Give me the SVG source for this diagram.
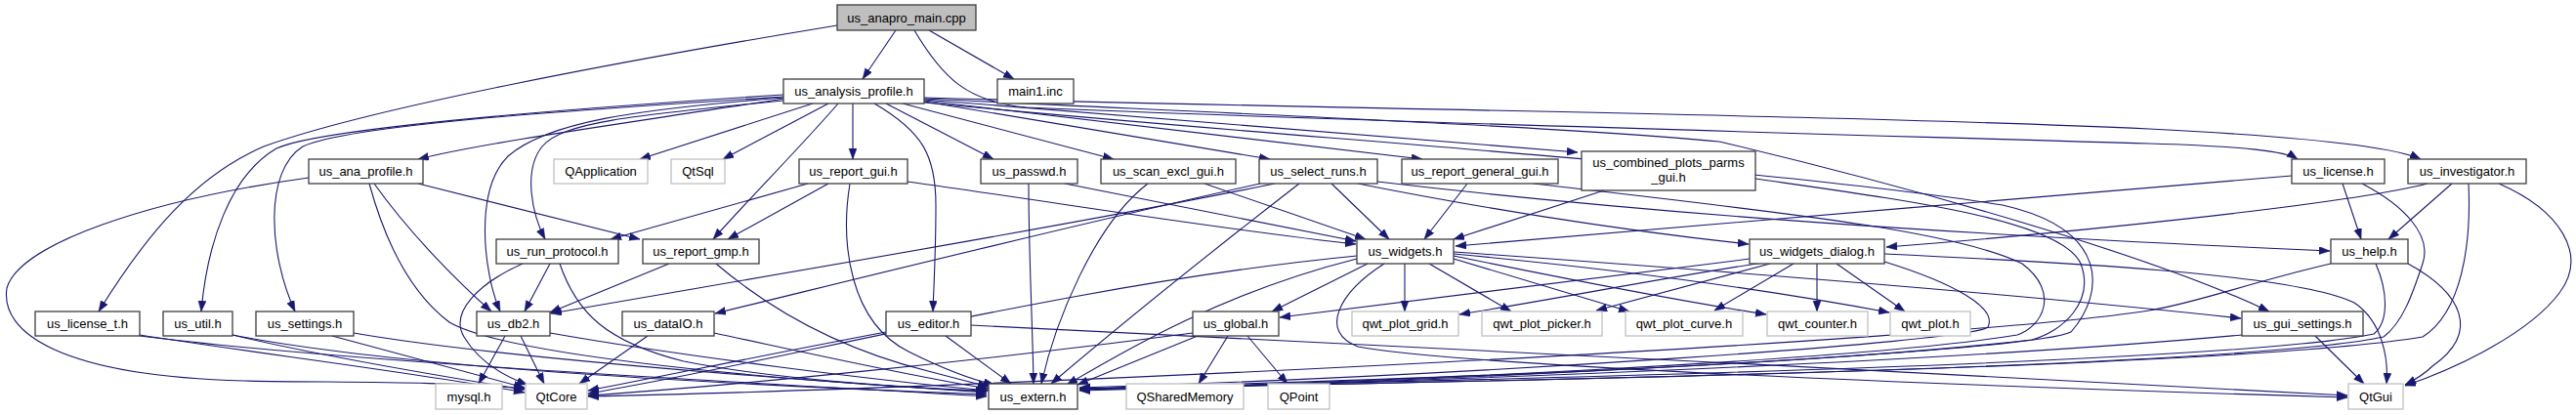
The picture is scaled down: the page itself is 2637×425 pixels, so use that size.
<svg xmlns="http://www.w3.org/2000/svg" width="2637" height="425" viewBox="0 0 2637 425">
<style>
text{font-family:"Liberation Sans",Arial,sans-serif;font-size:13px;fill:#000;text-anchor:middle}
.n{fill:#fff;stroke:#3c3c3c;stroke-width:1.3}
.x{fill:#fff;stroke:#c0c0c0;stroke-width:1.3}
.r{fill:#bfbfbf;stroke:#3c3c3c;stroke-width:1.3}
#edges path{fill:none;stroke:#191970;stroke-width:1.1;marker-end:url(#a)}
</style>
<defs>
<marker id="a" markerUnits="userSpaceOnUse" markerWidth="12" markerHeight="9" refX="11" refY="4" orient="auto" viewBox="0 0 12 9">
<path d="M0,0 L11,4 L0,8 z" fill="#191970" stroke="#191970" stroke-width="0.5"/>
</marker>
</defs>
<rect width="2637" height="425" fill="#fff"/>
<g id="edges">
<path d="M917,31 L883,81"/>
<path d="M951,31 L1038,81"/>
<path d="M857,26 C650,60 380,110 270,150 C200,180 150,240 101,319"/>
<path d="M936,31 C965,80 990,104 1050,110 C1400,125 1900,138 2200,147 C2300,150 2340,155 2352,163"/>
<path d="M802,101 C650,125 500,145 428,163"/>
<path d="M802,97 C600,110 330,130 283,152 C235,180 212,250 206,319"/>
<path d="M802,99 C600,112 360,127 310,150 C270,175 275,260 302,319"/>
<path d="M802,100 C650,112 560,125 520,160 C485,195 495,280 512,319"/>
<path d="M802,103 C650,118 575,125 555,150 C535,175 545,220 558,245"/>
<path d="M832,106 L655,163"/>
<path d="M848,106 L740,163"/>
<path d="M858,106 C820,150 770,200 730,245"/>
<path d="M873,106 L873,163"/>
<path d="M895,106 C945,135 958,160 958,210 C958,260 956,290 955,319"/>
<path d="M907,106 L1017,163"/>
<path d="M924,106 L1140,163"/>
<path d="M946,104 L1300,163"/>
<path d="M946,103 L1456,163"/>
<path d="M946,102 L1615,156"/>
<path d="M946,100 C1300,110 1900,118 2200,132 C2360,140 2450,150 2478,163"/>
<path d="M946,101 C1300,118 1600,130 1760,145 C1950,190 2200,260 2323,319"/>
<path d="M946,105 C1300,140 1800,170 2050,210 C2160,235 2155,300 2120,340 C2080,360 1500,390 1105,400"/>
<path d="M383,188 C420,240 470,290 503,319"/>
<path d="M428,188 L655,245"/>
<path d="M316,182 C150,205 20,250 7,295 C0,340 60,385 250,390 C350,392 450,390 537,398"/>
<path d="M378,188 C395,250 420,300 460,330 C520,365 800,390 1010,401"/>
<path d="M143,343 C250,360 450,385 537,402"/>
<path d="M143,344 C350,370 700,388 1010,406"/>
<path d="M238,343 C330,365 450,385 537,399"/>
<path d="M238,343 C400,375 700,392 1010,404"/>
<path d="M340,344 C420,365 490,385 537,397"/>
<path d="M362,341 C500,365 800,388 1010,402"/>
<path d="M563,270 L537,319"/>
<path d="M535,270 C490,290 460,320 475,345 C490,370 515,385 540,394"/>
<path d="M573,270 C590,320 620,350 700,370 C800,390 950,398 1010,400"/>
<path d="M685,270 L563,320"/>
<path d="M733,270 C780,310 850,355 950,380 C980,388 1000,393 1012,396"/>
<path d="M827,188 L625,245"/>
<path d="M848,188 L745,245"/>
<path d="M870,188 C860,250 870,330 930,360 C970,380 1000,390 1018,394"/>
<path d="M929,186 C1100,210 1250,235 1388,250"/>
<path d="M1053,188 C1053,260 1057,330 1058,393"/>
<path d="M1090,188 L1388,247"/>
<path d="M1175,188 C1120,230 1080,330 1066,393"/>
<path d="M1233,188 L1398,245"/>
<path d="M1363,188 L1422,245"/>
<path d="M1305,188 C1100,230 800,280 564,321"/>
<path d="M1290,188 C1100,230 900,280 732,321"/>
<path d="M1330,188 C1250,250 1150,330 1076,393"/>
<path d="M1390,188 C1500,210 1650,235 1790,250"/>
<path d="M1410,186 C1700,220 2000,240 2385,257"/>
<path d="M1502,188 L1458,245"/>
<path d="M1570,188 C1800,215 2000,235 2070,270 C2110,300 2090,335 2065,343 C1900,370 1400,392 1105,399"/>
<path d="M1642,195 L1488,245"/>
<path d="M1797,183 C1950,205 2110,225 2130,270 C2145,310 2110,340 2080,348 C1800,380 1300,392 1105,398"/>
<path d="M517,344 L490,393"/>
<path d="M533,344 L557,393"/>
<path d="M563,341 C700,365 900,390 1012,400"/>
<path d="M663,344 L593,393"/>
<path d="M731,341 C820,360 930,385 1012,398"/>
<path d="M968,344 L1035,393"/>
<path d="M907,340 C800,360 680,385 602,400"/>
<path d="M994,333 C1300,345 2000,385 2403,405"/>
<path d="M1257,344 L1227,393"/>
<path d="M1277,344 L1318,393"/>
<path d="M1226,344 L1103,394"/>
<path d="M1221,341 C1000,370 750,395 602,405"/>
<path d="M1438,270 L1438,319"/>
<path d="M1463,270 L1547,319"/>
<path d="M1488,265 L1668,319"/>
<path d="M1488,262 C1600,285 1700,305 1808,322"/>
<path d="M1488,260 C1650,275 1800,295 1934,320"/>
<path d="M1400,270 L1302,319"/>
<path d="M1488,258 C1800,280 2100,305 2294,326"/>
<path d="M1389,265 C1250,300 1150,360 1092,394"/>
<path d="M1389,262 C1100,290 800,370 602,403"/>
<path d="M1417,270 C1370,300 1350,340 1390,355 C1500,375 2000,395 2403,407"/>
<path d="M1860,270 L1860,319"/>
<path d="M1880,270 L1950,319"/>
<path d="M1805,269 C1700,285 1600,305 1494,322"/>
<path d="M1812,270 L1634,318"/>
<path d="M1836,270 L1755,318"/>
<path d="M1791,265 C1600,290 1400,315 1310,325"/>
<path d="M1929,268 C2000,290 2045,315 2035,335 C2020,350 1500,385 1105,397"/>
<path d="M1929,260 C2100,268 2350,280 2410,310 C2440,330 2445,370 2443,393"/>
<path d="M2346,180 C2100,200 1700,235 1490,252"/>
<path d="M2398,188 L2417,245"/>
<path d="M2418,188 C2460,210 2490,240 2480,270 C2470,300 2460,330 2440,345 C2300,375 1600,390 1105,398"/>
<path d="M2485,188 C2400,210 2100,240 1931,253"/>
<path d="M2510,188 L2445,245"/>
<path d="M2527,188 C2530,250 2520,320 2480,345 C2300,375 1600,390 1105,398"/>
<path d="M2558,188 C2620,215 2650,260 2620,300 C2590,340 2520,375 2462,395"/>
<path d="M2386,270 C2300,290 2250,310 2200,318 C2000,350 1000,398 602,406"/>
<path d="M2432,270 C2445,300 2445,330 2430,342 C2300,370 1600,388 1105,398"/>
<path d="M2465,270 C2520,300 2540,340 2490,375 C2480,385 2470,390 2462,394"/>
<path d="M2370,344 L2420,393"/>
<path d="M2295,343 C2000,370 1500,390 1105,399"/>
</g>
<g id="n_root"><rect class="r" x="857" y="5" width="142" height="26"/><text x="928" y="23">us_anapro_main.cpp</text></g>
<g id="n_analysis_profile"><rect class="n" x="802" y="81" width="144" height="25"/><text x="874" y="98">us_analysis_profile.h</text></g>
<g id="n_main1"><rect class="n" x="1021" y="81" width="78" height="25"/><text x="1060" y="98">main1.inc</text></g>
<g id="n_ana_profile"><rect class="n" x="316" y="163" width="117" height="25"/><text x="374.5" y="180">us_ana_profile.h</text></g>
<g id="n_qapplication"><rect class="x" x="567" y="163" width="96" height="25"/><text x="615" y="180">QApplication</text></g>
<g id="n_qtsql"><rect class="x" x="687" y="163" width="55" height="25"/><text x="714.5" y="180">QtSql</text></g>
<g id="n_report_gui"><rect class="n" x="818" y="163" width="111" height="25"/><text x="873.5" y="180">us_report_gui.h</text></g>
<g id="n_passwd"><rect class="n" x="1004" y="163" width="99" height="25"/><text x="1053.5" y="180">us_passwd.h</text></g>
<g id="n_scan_excl"><rect class="n" x="1127" y="163" width="138" height="25"/><text x="1196" y="180">us_scan_excl_gui.h</text></g>
<g id="n_select_runs"><rect class="n" x="1289" y="163" width="121" height="25"/><text x="1349.5" y="180">us_select_runs.h</text></g>
<g id="n_report_general"><rect class="n" x="1435" y="163" width="160" height="25"/><text x="1515" y="180">us_report_general_gui.h</text></g>
<g id="n_combined"><rect class="n" x="1619" y="155" width="178" height="40"/><text x="1708" y="171">us_combined_plots_parms</text><text x="1708" y="186">_gui.h</text></g>
<g id="n_license"><rect class="n" x="2346" y="163" width="95" height="25"/><text x="2393.5" y="180">us_license.h</text></g>
<g id="n_investigator"><rect class="n" x="2465" y="163" width="121" height="25"/><text x="2525.5" y="180">us_investigator.h</text></g>
<g id="n_run_protocol"><rect class="n" x="508" y="245" width="125" height="25"/><text x="570.5" y="262">us_run_protocol.h</text></g>
<g id="n_report_gmp"><rect class="n" x="658" y="245" width="119" height="25"/><text x="717.5" y="262">us_report_gmp.h</text></g>
<g id="n_widgets"><rect class="n" x="1389" y="245" width="99" height="25"/><text x="1438.5" y="262">us_widgets.h</text></g>
<g id="n_widgets_dialog"><rect class="n" x="1791" y="245" width="138" height="25"/><text x="1860" y="262">us_widgets_dialog.h</text></g>
<g id="n_help"><rect class="n" x="2386" y="245" width="79" height="25"/><text x="2425.5" y="262">us_help.h</text></g>
<g id="n_license_t"><rect class="n" x="36" y="319" width="107" height="25"/><text x="89.5" y="336">us_license_t.h</text></g>
<g id="n_util"><rect class="n" x="167" y="319" width="71" height="25"/><text x="202.5" y="336">us_util.h</text></g>
<g id="n_settings"><rect class="n" x="262" y="319" width="100" height="25"/><text x="312" y="336">us_settings.h</text></g>
<g id="n_db2"><rect class="n" x="488" y="319" width="75" height="25"/><text x="525.5" y="336">us_db2.h</text></g>
<g id="n_dataio"><rect class="n" x="637" y="319" width="94" height="25"/><text x="684" y="336">us_dataIO.h</text></g>
<g id="n_editor"><rect class="n" x="907" y="319" width="87" height="25"/><text x="950.5" y="336">us_editor.h</text></g>
<g id="n_global"><rect class="n" x="1221" y="319" width="88" height="25"/><text x="1265" y="336">us_global.h</text></g>
<g id="n_qwt_plot_grid"><rect class="x" x="1384" y="319" width="109" height="25"/><text x="1438.5" y="336">qwt_plot_grid.h</text></g>
<g id="n_qwt_plot_picker"><rect class="x" x="1517" y="319" width="123" height="25"/><text x="1578.5" y="336">qwt_plot_picker.h</text></g>
<g id="n_qwt_plot_curve"><rect class="x" x="1664" y="319" width="120" height="25"/><text x="1724" y="336">qwt_plot_curve.h</text></g>
<g id="n_qwt_counter"><rect class="x" x="1809" y="319" width="103" height="25"/><text x="1860.5" y="336">qwt_counter.h</text></g>
<g id="n_qwt_plot"><rect class="x" x="1935" y="319" width="82" height="25"/><text x="1976" y="336">qwt_plot.h</text></g>
<g id="n_gui_settings"><rect class="n" x="2295" y="319" width="124" height="25"/><text x="2357" y="336">us_gui_settings.h</text></g>
<g id="n_mysql"><rect class="x" x="446" y="393" width="68" height="26"/><text x="480" y="411">mysql.h</text></g>
<g id="n_qtcore"><rect class="x" x="538" y="393" width="63" height="26"/><text x="569.5" y="411">QtCore</text></g>
<g id="n_extern"><rect class="n" x="1012" y="393" width="91" height="26"/><text x="1057.5" y="411">us_extern.h</text></g>
<g id="n_qsharedmemory"><rect class="x" x="1153" y="393" width="120" height="26"/><text x="1213" y="411">QSharedMemory</text></g>
<g id="n_qpoint"><rect class="x" x="1298" y="393" width="63" height="26"/><text x="1329.5" y="411">QPoint</text></g>
<g id="n_qtgui"><rect class="x" x="2404" y="393" width="56" height="26"/><text x="2432" y="411">QtGui</text></g>
</svg>
